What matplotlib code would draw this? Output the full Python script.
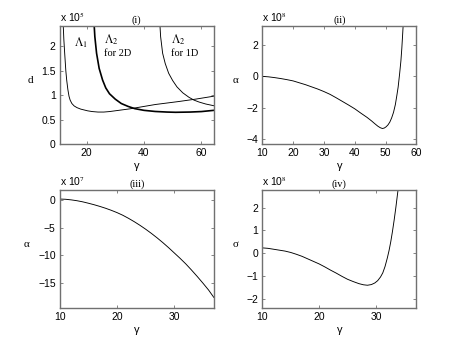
import matplotlib
matplotlib.use("Agg")
import matplotlib.pyplot as plt

# ---- data ----
# Panel (i): d (x 1e5) vs gamma
g_L1 = [11.85, 12.1, 12.4, 12.8, 13.1, 13.5, 13.9, 14.3, 14.9, 15.7, 16.7, 18.0, 20.4, 22.0, 24.0, 26.0, 28.0, 35.0, 44.0, 52.0, 58.0, 64.3]
d_L1 = [2.5, 2.15, 1.86, 1.5, 1.31, 1.12, 0.98, 0.9, 0.83, 0.78, 0.745, 0.715, 0.68, 0.665, 0.655, 0.655, 0.665, 0.72, 0.81, 0.87, 0.92, 0.98]
g_L2_2D = [22.6, 22.9, 23.5, 24.4, 25.6, 26.7, 28.0, 30.0, 32.1, 34.5, 36.8, 40.0, 43.9, 48.0, 51.0, 56.0, 60.0, 64.3]
d_L2_2D = [2.5, 2.2, 1.86, 1.55, 1.31, 1.15, 1.03, 0.92, 0.83, 0.77, 0.725, 0.69, 0.667, 0.655, 0.65, 0.655, 0.665, 0.69]
g_L2_1D = [45.5, 45.8, 46.5, 47.4, 48.6, 50.0, 51.5, 53.5, 55.6, 57.4, 59.2, 61.5, 64.3]
d_L2_1D = [2.5, 2.2, 1.86, 1.65, 1.45, 1.3, 1.17, 1.05, 0.96, 0.9, 0.86, 0.82, 0.785]

# Panel (ii): alpha (x 1e8) vs gamma
g_ii = [10, 12, 14, 16, 18, 20, 22, 24, 26, 28, 30, 32, 34, 36, 38, 40, 42, 44, 45.5, 46.5, 47.5, 48.3, 49.0, 49.6, 50.2, 50.8, 51.4, 52.0, 52.6, 53.2, 53.7, 54.1, 54.6, 55.0, 55.3, 55.6, 55.8]
a_ii = [0.0, -0.03, -0.08, -0.14, -0.21, -0.29, -0.41, -0.53, -0.67, -0.81, -0.97, -1.15, -1.37, -1.6, -1.83, -2.07, -2.35, -2.62, -2.85, -3.02, -3.18, -3.28, -3.33, -3.3, -3.22, -3.1, -2.92, -2.65, -2.3, -1.8, -1.2, -0.69, 0.2, 0.99, 1.8, 2.8, 3.5]

# Panel (iii): alpha (x 1e7) vs gamma
g_iii = [10, 11, 12, 13, 14, 15, 16, 17, 18, 19, 20, 21, 22, 23, 24, 25, 26, 27, 28, 29, 30, 31, 32, 33, 34, 35, 36, 36.9]
a_iii = [0.1, 0.06, -0.05, -0.2, -0.4, -0.65, -0.92, -1.22, -1.55, -1.92, -2.33, -2.8, -3.35, -3.95, -4.6, -5.3, -6.05, -6.85, -7.7, -8.6, -9.55, -10.5, -11.5, -12.6, -13.75, -14.95, -16.2, -17.5]

# Panel (iv): sigma (x 1e8) vs gamma
g_iv = [10, 11, 12, 13, 14, 15, 16, 17, 18, 19, 20, 21, 22, 23, 24, 25, 26, 27, 27.8, 28.5, 29.2, 29.8, 30.3, 30.8, 31.2, 31.6, 32.0, 32.3, 32.6, 32.9, 33.2, 33.5, 33.8, 34.0]
s_iv = [0.24, 0.22, 0.18, 0.14, 0.10, 0.04, -0.04, -0.13, -0.24, -0.35, -0.46, -0.59, -0.73, -0.86, -1.0, -1.13, -1.23, -1.32, -1.37, -1.39, -1.36, -1.29, -1.19, -1.03, -0.85, -0.57, -0.2, 0.12, 0.5, 0.95, 1.45, 2.0, 2.6, 3.0]

titles = ["(i)", "(ii)", "(iii)", "(iv)"]
ylabels = ["d", "\u03b1", "\u03b1", "\u03c3"]
exps = ["5", "8", "7", "8"]

SANS = "Liberation Sans"
SERIF = "Liberation Serif"
TICK_FS = 7.5
plt.rcParams["mathtext.fontset"] = "stix"

fig = plt.figure(figsize=(4.6, 3.46), dpi=100)
positions = [[0.13, 0.5838, 0.3347, 0.3412], [0.5703, 0.5838, 0.3347, 0.3412],
             [0.13, 0.11, 0.3347, 0.3412], [0.5703, 0.11, 0.3347, 0.3412]]
axes = [fig.add_axes(p) for p in positions]

def style(ax, title, ylabel, exp):
    for s in ax.spines.values():
        s.set_color("#707070")
        s.set_linewidth(1.0)
    ax.tick_params(direction="in", length=2.5, width=0.6, color="#707070",
                   top=True, right=True, labelsize=TICK_FS, pad=3)
    for lab in ax.get_xticklabels() + ax.get_yticklabels():
        lab.set_fontfamily(SANS)
    ax.set_xlabel("\u03b3", fontsize=8, labelpad=2, family=SANS)
    ax.set_ylabel(ylabel, fontsize=8, rotation=0, labelpad=8, family=SERIF)
    ax.set_title(title, fontsize=7.5, family=SERIF, pad=2)
    ax.text(0.0, 1.015, "x 10$^{%s}$" % exp, transform=ax.transAxes, fontsize=7.5,
            family=SANS, ha="left", va="bottom")

LW = 0.65
# (i)
ax = axes[0]
ax.plot(g_L1, d_L1, color="black", lw=LW)
ax.plot(g_L2_2D, d_L2_2D, color="black", lw=1.2)
ax.plot(g_L2_1D, d_L2_1D, color="black", lw=LW)
ax.set_xlim(10.7, 64.3)
ax.set_ylim(0, 2.42)
ax.set_xticks([20, 40, 60])
ax.set_yticks([0, 0.5, 1, 1.5, 2])
ax.set_yticklabels(["0", "0.5", "1", "1.5", "2"])
ax.text(15.5, 2.0, r"$\Lambda_1$", fontsize=8.5, family=SERIF)
ax.text(26.2, 2.06, r"$\Lambda_2$", fontsize=8.5, family=SERIF)
ax.text(26.2, 1.8, "for 2D", fontsize=7.5, family=SERIF)
ax.text(49.3, 2.06, r"$\Lambda_2$", fontsize=8.5, family=SERIF)
ax.text(49.3, 1.8, "for 1D", fontsize=7.5, family=SERIF)
style(ax, titles[0], ylabels[0], exps[0])

# (ii)
ax = axes[1]
ax.plot(g_ii, a_ii, color="black", lw=LW)
ax.set_xlim(10, 60)
ax.set_ylim(-4.32, 3.22)
ax.set_xticks([10, 20, 30, 40, 50, 60])
ax.set_yticks([-4, -2, 0, 2])
ax.set_yticklabels(["\u22124", "\u22122", "0", "2"])
style(ax, titles[1], ylabels[1], exps[1])

# (iii)
ax = axes[2]
ax.plot(g_iii, a_iii, color="black", lw=LW)
ax.set_xlim(10, 36.9)
ax.set_ylim(-19.4, 1.74)
ax.set_xticks([10, 20, 30])
ax.set_yticks([-15, -10, -5, 0])
ax.set_yticklabels(["\u221215", "\u221210", "\u22125", "0"])
style(ax, titles[2], ylabels[2], exps[2])

# (iv)
ax = axes[3]
ax.plot(g_iv, s_iv, color="black", lw=LW)
ax.set_xlim(10, 37.1)
ax.set_ylim(-2.38, 2.77)
ax.set_xticks([10, 20, 30])
ax.set_yticks([-2, -1, 0, 1, 2])
ax.set_yticklabels(["\u22122", "\u22121", "0", "1", "2"])
style(ax, titles[3], ylabels[3], exps[3])

fig.savefig("out.png", dpi=100)
